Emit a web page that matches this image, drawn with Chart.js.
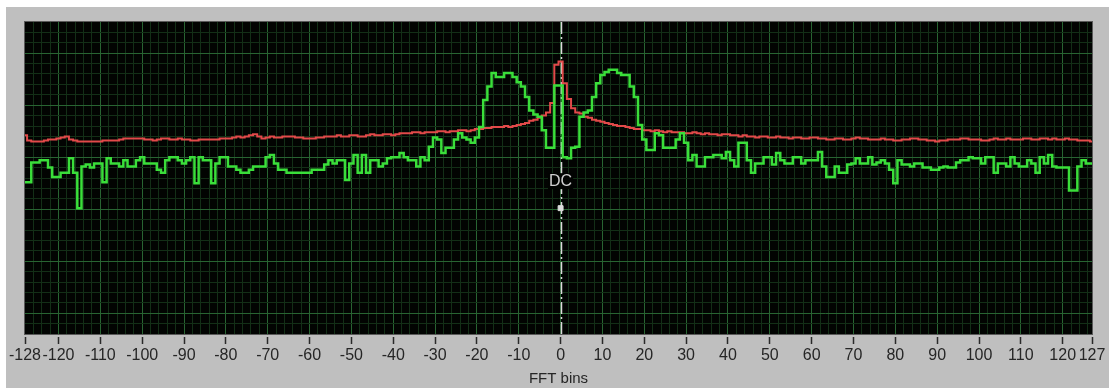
<!DOCTYPE html>
<html>
<head>
<meta charset="utf-8">
<title>FFT bins</title>
<script src="https://cdn.jsdelivr.net/npm/chart.js@4.4.1/dist/chart.umd.min.js"></script>
<style>
  html, body { margin: 0; padding: 0; background: #fff; }
  canvas { display: block; }
</style>
</head>
<body>
<canvas id="fftChart" width="1112" height="390"></canvas>
<script>
const firstBin = -128;
const lastBin = 127;
const tickLabels = [-128, -120, -110, -100, -90, -80, -70, -60, -50, -40, -30, -20, -10, 0,
  10, 20, 30, 40, 50, 60, 70, 80, 90, 100, 110, 120, 127];
const axisTitle = 'FFT bins';

// level per bin, dB, from bin -128 to 127
const liveDb = [
  -37, -37, -27.5, -27.5, -26.5, -26.5, -30, -34.5, -34.5, -32.5, -32.5, -25.5, -32.5, -49.5, -29.5, -28.5,
  -30, -28, -28, -37, -25.5, -28, -28, -29.5, -26.5, -29.5, -29.5, -26.5, -25, -28, -28, -28,
  -31, -32.5, -26.5, -25, -25, -26.5, -28, -26.5, -25, -37.5, -25, -26.5, -26.5, -37.5, -28, -25,
  -25, -29.5, -29.5, -31, -32.5, -32.5, -31, -29.5, -29.5, -29.5, -25, -24, -28, -31, -31, -32.5,
  -32.5, -32.5, -32.5, -32.5, -32.5, -31, -31, -31, -28.5, -26.5, -28, -26.5, -26.5, -36, -28, -24,
  -32.5, -24, -32.5, -26.5, -26.5, -29.5, -28, -25.5, -25, -25, -23, -25, -26.5, -26.5, -29.5, -25,
  -26.5, -20, -15.5, -16.5, -23, -20.5, -20.5, -16.5, -13.5, -15.5, -16.5, -18, -15.5, -10.5, 2.5, 9,
  15.5, 13.5, 13.5, 15.5, 15.5, 13.5, 11, 9, 4, -2.5, -4.5, -5.5, -12, -20.5, -20.5, 9.5,
  9.5, -25, -25.5, -20.5, -20, -5.5, -3.5, -2.5, 4, 10.5, 14.5, 16, 17, 17, 15.5, 14.5,
  14.5, 9, 4, -9.5, -16.5, -21.5, -21.5, -13.5, -14.5, -20.5, -20.5, -20.5, -16.5, -13.5, -18, -26.5,
  -24, -29.5, -29.5, -25, -25, -24, -24, -25.5, -22.5, -26.5, -29.5, -18, -18, -26.5, -32.5, -28,
  -28, -25, -25, -28.5, -23, -26.5, -28, -28, -25, -25, -28, -26.5, -26.5, -26.5, -22.5, -29.5,
  -34.5, -34.5, -29.5, -32.5, -32.5, -28.5, -28, -25.5, -28, -28, -25, -28.5, -27.5, -26.5, -28, -31,
  -37.5, -26.5, -28.5, -28.5, -29.5, -28, -28, -30, -30, -31, -31, -30, -29.5, -30, -30, -27.5,
  -26.5, -26.5, -25, -25.5, -25.5, -28, -25, -25, -32.5, -28, -28, -29.5, -25, -28, -29.5, -29.5,
  -26.5, -28, -32.5, -25, -28, -24, -29.5, -30, -30, -30, -41, -41, -29.5, -26.5, -28, -28
];

const avgDb = [
  -14.5, -17, -17.5, -17.5, -17.5, -17, -16.5, -16.5, -16, -15.5, -15, -16.5, -17, -17.5, -17.5, -17.5,
  -17.5, -17.5, -17.5, -17, -17, -17, -17, -16.5, -16, -16, -16, -16, -16, -16.5, -16.5, -17,
  -16.5, -16, -16, -16.5, -16.5, -16, -16.5, -16.5, -17, -17, -16.5, -16.5, -16.5, -16.5, -16.5, -16,
  -16, -16, -15.5, -15, -15.5, -15, -14.5, -14, -15, -16, -15.5, -15, -15.5, -15.5, -15, -15,
  -15, -15.5, -15.5, -16, -16, -16, -15.5, -15.5, -15, -15, -15, -14.5, -15, -15, -14.5, -14.5,
  -15, -15, -14.5, -14, -14.5, -14.5, -14, -14, -14.5, -14, -13.5, -13.5, -13.5, -13, -13, -13.5,
  -13, -13, -13, -12.5, -12.5, -13, -12.5, -12.5, -12, -12, -12.5, -12, -11.5, -11.5, -11, -11,
  -10.5, -10.5, -10.5, -10, -10.5, -10, -9.5, -9, -8.5, -7.5, -7, -6, -5, -3.5, 1, 19.5,
  21, 10.5, 3, -1.5, -3.5, -4, -5.5, -6, -7, -7.5, -8, -8.5, -9, -9.5, -10, -10,
  -10.5, -11, -11.5, -11.5, -12, -12, -12.5, -12, -12.5, -13, -12.5, -13, -13, -13, -13.5, -13.5,
  -13, -13.5, -14, -13.5, -14, -14, -14.5, -14, -14, -14.5, -14.5, -15, -14.5, -15, -15, -15.5,
  -15, -15, -15.5, -15.5, -15, -15.5, -15.5, -16, -15.5, -15.5, -16, -16, -15.5, -15.5, -16, -16,
  -16.5, -16.5, -16, -16, -16.5, -16.5, -16, -15.5, -16, -16, -16.5, -16.5, -16.5, -16, -16.5, -16.5,
  -17, -17, -16.5, -16.5, -16, -16, -16.5, -16.5, -17, -17, -17.5, -17, -17, -16.5, -16.5, -16.5,
  -16, -16, -16.5, -16.5, -16.5, -17, -17, -16.5, -16, -16.5, -16.5, -16, -16.5, -16.5, -16.5, -16,
  -16, -16.5, -16.5, -16, -16, -16.5, -16, -16.5, -16.5, -16, -16.5, -16.5, -17, -17, -17, -17.5
];

const dcBin = 0;
const dcMarkerDb = -49.5;
const dcLabel = 'DC';

const axisFont = "'Liberation Sans', Arial, sans-serif";

function toPoints(values) {
  return values.map((v, i) => ({ x: firstBin + i, y: v }));
}

function xGridColor(ctx) {
  const v = ctx.tick ? ctx.tick.value : null;
  if (v === firstBin || v === lastBin) return 'transparent';
  return v % 10 === 0 ? '#286432' : '#132f17';
}

function yGridColor(ctx) {
  const v = ctx.tick ? ctx.tick.value : null;
  if (v === -110 || v === 40) return 'transparent';
  return v % 25 === 0 ? '#286432' : '#132f17';
}

const panelPlugin = {
  id: 'panel',
  beforeDraw(chart) {
    const { ctx, chartArea: a } = chart;
    ctx.save();
    ctx.fillStyle = '#ffffff';
    ctx.fillRect(0, 0, chart.width, chart.height);
    ctx.fillStyle = '#bfbfbf';
    ctx.fillRect(6, 7, chart.width - 9, chart.height - 9);
    ctx.fillStyle = '#020402';
    ctx.fillRect(a.left, a.top, a.right - a.left, a.bottom - a.top);
    ctx.restore();
  },
  beforeDatasetsDraw(chart) {
    const { ctx, chartArea: a } = chart;
    const x = Math.round(chart.scales.x.getPixelForValue(dcBin)) + 0.5;
    ctx.save();
    ctx.strokeStyle = '#dadada';
    ctx.lineWidth = 1.5;
    ctx.setLineDash([12, 3, 2, 3]);
    ctx.beginPath();
    ctx.moveTo(x, a.top);
    ctx.lineTo(x, a.bottom);
    ctx.stroke();
    ctx.restore();
  },
  afterDatasetsDraw(chart) {
    const { ctx, chartArea: a } = chart;
    const x = chart.scales.x.getPixelForValue(dcBin);
    const y = chart.scales.y.getPixelForValue(dcMarkerDb) - 27;
    ctx.save();
    ctx.font = "16px 'Liberation Sans', Arial, sans-serif";
    ctx.textAlign = 'center';
    ctx.textBaseline = 'middle';
    const w = ctx.measureText(dcLabel).width;
    ctx.fillStyle = '#020402';
    ctx.fillRect(x - w / 2 - 1, y - 8, w + 2, 16);
    ctx.fillStyle = '#cfcfcf';
    ctx.fillText(dcLabel, x, y);
    ctx.strokeStyle = '#5a5a5a';
    ctx.lineWidth = 1;
    ctx.strokeRect(a.left - 0.5, a.top - 0.5, a.right - a.left + 1, a.bottom - a.top + 1);
    ctx.restore();
  }
};

new Chart(document.getElementById('fftChart'), {
  type: 'line',
  data: {
    datasets: [
      {
        label: dcLabel,
        data: [{ x: dcBin, y: dcMarkerDb }],
        showLine: false,
        pointStyle: 'rect',
        pointRadius: 3.5,
        backgroundColor: '#dcdcdc',
        borderColor: '#dcdcdc',
        order: 0
      },
      {
        label: 'live',
        data: toPoints(liveDb),
        borderColor: '#3ade3a',
        borderWidth: 2.5,
        stepped: 'middle',
        pointRadius: 0,
        order: 1
      },
      {
        label: 'average',
        data: toPoints(avgDb),
        borderColor: '#e24a4a',
        borderWidth: 2,
        stepped: 'middle',
        pointRadius: 0,
        order: 2
      }
    ]
  },
  options: {
    responsive: false,
    devicePixelRatio: 1,
    animation: false,
    events: [],
    layout: { padding: { left: 25, right: 20, top: 22, bottom: 0 } },
    plugins: {
      legend: { display: false },
      tooltip: { enabled: false }
    },
    scales: {
      x: {
        type: 'linear',
        min: firstBin,
        max: lastBin,
        afterBuildTicks(scale) {
          const ticks = [];
          for (let v = firstBin; v < lastBin; v += 2) ticks.push({ value: v });
          ticks.push({ value: lastBin });
          scale.ticks = ticks;
        },
        afterFit(scale) { scale.height = 56; },
        border: { display: false },
        grid: {
          color: xGridColor,
          lineWidth: 1,
          tickLength: 10,
          tickWidth: 1.5,
          tickBorderDash: [0, 3, 7, 100],
          tickColor: ctx => tickLabels.includes(ctx.tick && ctx.tick.value) ? '#2a2a2a' : 'transparent'
        },
        ticks: {
          autoSkip: false,
          maxRotation: 0,
          minRotation: 0,
          padding: 2,
          color: '#262626',
          font: { family: axisFont, size: 16 },
          callback: value => tickLabels.includes(value) ? String(value) : ''
        },
        title: {
          display: true,
          text: axisTitle,
          color: '#262626',
          font: { family: axisFont, size: 15 },
          padding: { top: 0, bottom: 2 }
        }
      },
      y: {
        min: -110,
        max: 40,
        afterFit(scale) { scale.width = 0; },
        border: { display: false },
        grid: { color: yGridColor, drawTicks: false },
        ticks: { display: false, stepSize: 5 }
      }
    }
  },
  plugins: [panelPlugin]
});
</script>
</body>
</html>
